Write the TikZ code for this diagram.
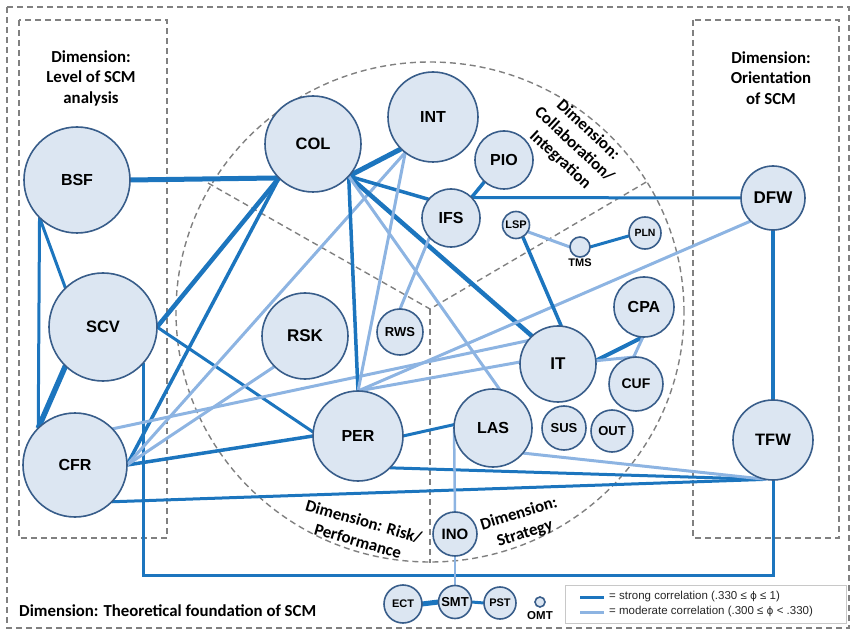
\documentclass[tikz,border=0pt]{standalone}
\usepackage{fontspec}
\setmainfont{Carlito}
\newfontfamily\nodefont{Liberation Sans}
\newfontfamily\dejavu{DejaVu Sans}
\usetikzlibrary{calc}
\pgfdeclarelayer{bg}
\pgfdeclarelayer{edges}
\pgfsetlayers{bg,edges,main}
\definecolor{strongc}{RGB}{28,117,190}
\definecolor{modc}{RGB}{141,180,226}
\definecolor{nfill}{RGB}{220,230,242}
\definecolor{nbord}{RGB}{56,93,138}
\definecolor{dgray}{RGB}{128,128,128}
\definecolor{leggray}{RGB}{200,200,200}
\tikzset{
  cn/.style 2 args={circle, draw=nbord, fill=nfill, line width=1.6pt, inner sep=0pt, outer sep=0pt, minimum size=#1, font=\nodefont\bfseries\fontsize{#2}{#2}\selectfont},
  strong/.style={draw=strongc, line width=#1},
  strong/.default=3.5pt,
  moder/.style={draw=modc, line width=#1},
  moder/.default=3pt,
  dashline/.style={draw=dgray, line width=1.4pt, dash pattern=on 6pt off 4pt},
  dimtext/.style={font=\bfseries\fontsize{16.8}{20.5}\selectfont, inner sep=0pt, align=center},
  smalllbl/.style={font=\nodefont\bfseries\fontsize{#1}{#1}\selectfont, inner sep=0pt},
  legtext/.style={font=\nodefont\fontsize{11.5}{13}\selectfont, inner sep=0pt, anchor=west, text=black!85}
}
\begin{document}
\begin{tikzpicture}[x=1pt,y=-1pt]
\useasboundingbox (0,0) rectangle (852,631);

% nodes
\node[cn={106pt}{16}] (BSF) at (77,180) {BSF};
\node[cn={108pt}{16.5}] (SCV) at (103,327) {SCV};
\node[cn={104pt}{16}] (CFR) at (75,465) {CFR};
\node[cn={96pt}{16.5}] (COL) at (313,144) {COL};
\node[cn={90pt}{16}] (INT) at (433,117) {INT};
\node[cn={58pt}{16}] (PIO) at (504,160) {PIO};
\node[cn={58pt}{16}] (IFS) at (451,218) {IFS};
\node[cn={27pt}{11}] (LSP) at (516,225) {LSP};
\node[cn={20pt}{11}] (TMS) at (580,247) {};
\node[smalllbl=11] (TMSl) at (580,263) {TMS};
\node[cn={32pt}{10.5}] (PLN) at (645,233) {PLN};
\node[cn={60pt}{16}] (CPA) at (644,307) {CPA};
\node[cn={76pt}{17}] (IT) at (558,364) {IT};
\node[cn={54pt}{14}] (CUF) at (636,384) {CUF};
\node[cn={44pt}{13}] (SUS) at (564,428) {SUS};
\node[cn={42pt}{13}] (OUT) at (612,431) {OUT};
\node[cn={78pt}{16}] (LAS) at (493,428) {LAS};
\node[cn={80pt}{16.5}] (TFW) at (773,440) {TFW};
\node[cn={64pt}{17}] (DFW) at (773,198) {DFW};
\node[cn={86pt}{17}] (RSK) at (305,336) {RSK};
\node[cn={46pt}{13}] (RWS) at (400,332) {RWS};
\node[cn={90pt}{16}] (PER) at (358,436) {PER};
\node[cn={44pt}{15}] (INO) at (455,534) {INO};
\node[cn={38pt}{11}] (ECT) at (403,604) {ECT};
\node[cn={33pt}{13}] (SMT) at (455,602) {SMT};
\node[cn={32pt}{11}] (PST) at (500,603) {PST};
\node[cn={10pt}{11}] (OMT) at (540,602) {};
\node[smalllbl=11.5] (OMTl) at (540,616) {OMT};

% dimension labels
\node[dimtext] (dimL) at (91,78) {Dimension:\\Level of SCM\\analysis};
\node[dimtext] (dimR) at (771,78) {Dimension:\\Orientation\\of SCM};
\node[dimtext, rotate=-43] (dimC) at (574,145) {Dimension:\\Collaboration/\\Integration};
\node[dimtext, rotate=-16] (dimP) at (361,531) {Dimension: Risk/\\Performance};
\node[dimtext, rotate=17] (dimS) at (522,524) {Dimension:\\Strategy};
\node[dimtext, anchor=base west] (dimT) at (19,616) {Dimension: Theoretical foundation of SCM};

% legend
\node[draw=leggray, line width=0.8pt, minimum width=281pt, minimum height=38pt, anchor=north west, inner sep=0pt] (leg) at (565,585) {};
\coordinate (ls1) at (580,597); \coordinate (le1) at (604,597);
\coordinate (ls2) at (580,612); \coordinate (le2) at (604,612);
\draw[strong=3pt] (ls1) -- (le1);
\draw[moder=3pt] (ls2) -- (le2);
\node[legtext] (lt1) at (609,597) {= strong correlation (.330 ≤ {\dejavu\fontsize{10.5}{12}\selectfont ϕ} ≤ 1)};
\node[legtext] (lt2) at (609,612) {= moderate correlation (.300 ≤ {\dejavu\fontsize{10.5}{12}\selectfont ϕ} < .330)};

% background dashed regions
\begin{pgfonlayer}{bg}
\draw[dashline] (7,7) rectangle (849,628);
\draw[dashline] (19,20) rectangle (167,538);
\draw[dashline] (693,20) rectangle (839,538);
\draw[dashline] (430,312) ellipse [x radius=254pt, y radius=250pt];
\coordinate (cc) at (430,309);
\coordinate (cl) at (208,183);
\coordinate (cr) at (648,181);
\coordinate (cb) at (430,563);
\draw[dashline] (cl) -- (cc) -- (cr);
\draw[dashline] (cc) -- (cb);
\end{pgfonlayer}

% edges
\begin{pgfonlayer}{edges}
\coordinate (sctf) at (773,575);
\draw[strong=5pt] (BSF.east) -- (COL.-135);
\draw[strong=3pt] (BSF.-135) -- (SCV.134);
\draw[strong=3pt] (BSF.-135) -- (CFR.135);
\draw[strong=5.5pt] (SCV.-134) -- (CFR.135);
\draw[strong=4.5pt] (SCV.east) -- (COL.-135);
\draw[strong=3pt] (SCV.east) -- (PER.175);
\draw[strong=3pt] (SCV.-42) |- (sctf) -- (TFW.south);
\draw[strong=3.5pt] (CFR.east) -- (COL.-135);
\draw[strong=3.5pt] (CFR.east) -- (PER.180);
\draw[strong=3pt] (CFR.-45) -- (TFW.-100);
\draw[moder] (CFR.east) -- (INT.-128);
\draw[moder] (CFR.east) -- (RSK.-135);
\draw[moder] (CFR.44) -- (IT.142);
\draw[strong=5pt] (COL.-42) -- (INT.-135);
\draw[strong=3.5pt] (COL.-42) -- (IFS.140);
\draw[strong=3.5pt] (COL.-42) -- (PER.north);
\draw[strong=4.5pt] (COL.-42) -- (IT.133);
\draw[moder] (COL.-42) -- (LAS.80);
\draw[moder] (INT.-128) -- (PER.north);
\draw[strong=3.5pt] (IFS.45) -- (PIO.-132);
\draw[strong=3pt] (IFS.45) -- (DFW.west);
\draw[moder] (IFS.-138) -- (RWS.north);
\draw[moder] (DFW.-134) -- (PER.north);
\draw[strong=4.5pt] (DFW.south) -- (TFW.north);
\draw[moder] (PER.north) -- (IT.177);
\draw[strong=3pt] (PER.east) -- (LAS.175);
\draw[strong=3pt] (PER.-45) -- (TFW.-100);
\draw[moder] (LAS.-40) -- (TFW.-100);
\draw[moder=2.5pt] (LAS.west) -- (INO.north);
\draw[moder=2.5pt] (INO.south) -- (SMT.north);
\draw[strong=5pt] (ECT.east) -- (SMT.west);
\draw[strong=3pt] (SMT.east) -- (PST.west);
\draw[strong=3.5pt] (IT.85) -- (LSP.-60);
\draw[moder] (LSP.-30) -- (TMS.west);
\draw[strong=3pt] (TMS.east) -- (PLN.190);
\draw[strong=4pt] (IT.5) -- (CPA.-92);
\draw[moder] (IT.5) -- (CUF.95);
\draw[moder] (CPA.-92) -- (CUF.95);
\end{pgfonlayer}
\end{tikzpicture}
\end{document}
